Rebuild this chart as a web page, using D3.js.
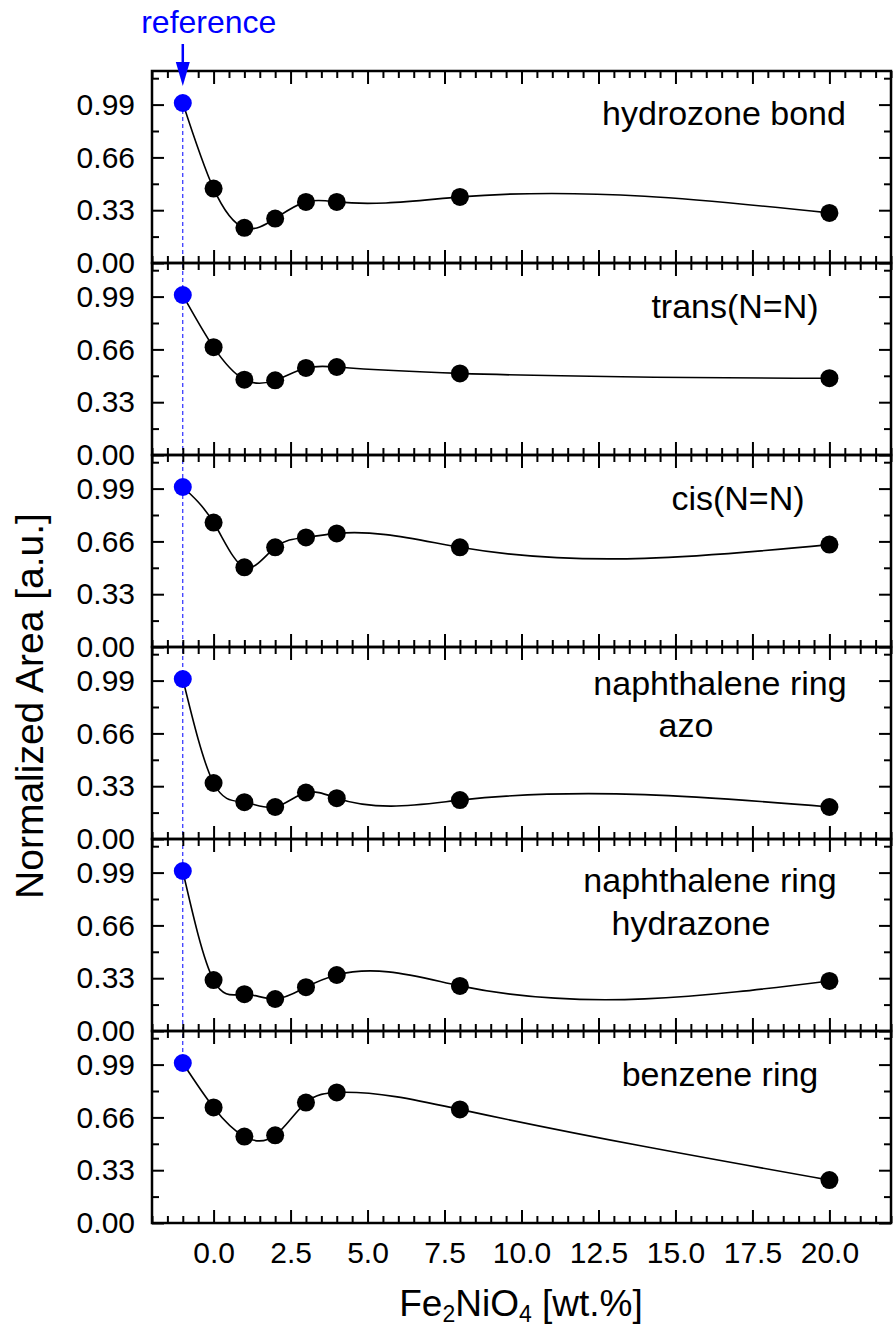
<!DOCTYPE html>
<html>
<head>
<meta charset="utf-8">
<script src="https://cdn.jsdelivr.net/npm/d3@7"></script>
<style>
  body { margin: 0; background: #fff; }
  text { font-family: "Liberation Sans", Arial, sans-serif; }
</style>
</head>
<body>
<div id="chart"></div>
<script>
// Data
var loadings = [-1, 0, 1, 2, 3, 4, 8, 20];   // Fe2NiO4 wt.% (-1 = reference)
var hydrozoneBond = [1.0, 0.465, 0.22, 0.278, 0.382, 0.382, 0.413, 0.313];
var transNN = [1.0, 0.674, 0.471, 0.467, 0.544, 0.55, 0.51, 0.48];
var cisNN = [1.0, 0.778, 0.498, 0.623, 0.685, 0.71, 0.623, 0.64];
var naphAzo = [1.0, 0.35, 0.23, 0.2, 0.29, 0.255, 0.243, 0.2];
var naphHydrazone = [1.0, 0.318, 0.23, 0.2, 0.274, 0.35, 0.282, 0.313];
var benzeneRing = [1.0, 0.722, 0.54, 0.548, 0.753, 0.816, 0.71, 0.268];

var panelLabels = [
  ["hydrozone bond"],
  ["trans(N=N)"],
  ["cis(N=N)"],
  ["naphthalene ring", "azo"],
  ["naphthalene ring", "hydrazone"],
  ["benzene ring"]
];
var series = [hydrozoneBond, transNN, cisNN, naphAzo, naphHydrazone, benzeneRing];

var yTicks = [0, 0.33, 0.66, 0.99];
var yMinor = [0.165, 0.495, 0.825, 1.155];
var xTicks = [0, 2.5, 5, 7.5, 10, 12.5, 15, 17.5, 20];

var svgWidth = 894;
var svgHeight = 1332;
var margin = { top: 71, left: 152, right: 3 };
var panelH = 192;
var width = svgWidth - margin.left - margin.right;

var svg = d3.select("#chart")
  .append("svg")
  .attr("width", svgWidth)
  .attr("height", svgHeight);

var x = d3.scaleLinear().domain([-2, 22]).range([0, width]);
var y = d3.scaleLinear().domain([0, 1.2]).range([panelH, 0]);

var xMinor = d3.range(-2, 22.01, 0.5).filter(function(v) { return Math.abs(v / 2.5 - Math.round(v / 2.5)) > 1e-6; });

// natural cubic spline in x, drawn as bezier pieces (like Origin's spline line)
function splineCurve(context) {
  var xs, ys;
  return {
    areaStart: function() {},
    areaEnd: function() {},
    lineStart: function() { xs = []; ys = []; },
    point: function(px, py) { xs.push(+px); ys.push(+py); },
    lineEnd: function() {
      var n = xs.length;
      if (n < 2) return;
      var h = [], M = new Array(n).fill(0);
      for (var i = 0; i < n - 1; i++) h[i] = xs[i + 1] - xs[i];
      var cp = [], dp = [];
      for (var i = 1; i < n - 1; i++) {
        var a = h[i - 1], b = 2 * (h[i - 1] + h[i]), c = h[i];
        var d = 6 * ((ys[i + 1] - ys[i]) / h[i] - (ys[i] - ys[i - 1]) / h[i - 1]);
        if (i === 1) { cp[i] = c / b; dp[i] = d / b; }
        else {
          var m = b - a * cp[i - 1];
          cp[i] = c / m;
          dp[i] = (d - a * dp[i - 1]) / m;
        }
      }
      for (var i = n - 2; i >= 1; i--) M[i] = dp[i] - (i < n - 2 ? cp[i] * M[i + 1] : 0);
      context.moveTo(xs[0], ys[0]);
      for (var i = 0; i < n - 1; i++) {
        var s = (ys[i + 1] - ys[i]) / h[i];
        var m0 = s - h[i] * (2 * M[i] + M[i + 1]) / 6;
        var m1 = s + h[i] * (M[i] + 2 * M[i + 1]) / 6;
        context.bezierCurveTo(xs[i] + h[i] / 3, ys[i] + h[i] * m0 / 3,
                              xs[i + 1] - h[i] / 3, ys[i + 1] - h[i] * m1 / 3,
                              xs[i + 1], ys[i + 1]);
      }
    }
  };
}

var line = d3.line()
  .x(function(d) { return x(d[0]); })
  .y(function(d) { return y(d[1]); })
  .curve(splineCurve);

var plot = svg.append("g").attr("transform", "translate(" + margin.left + "," + margin.top + ")");

// dashed reference line through all panels
plot.append("line")
  .attr("x1", x(-1)).attr("x2", x(-1))
  .attr("y1", y(1.0)).attr("y2", 5 * panelH + y(1.0))
  .attr("stroke", "#0000ff")
  .attr("stroke-width", 1)
  .attr("stroke-dasharray", "4,3");

series.forEach(function(vals, p) {
  var g = plot.append("g").attr("transform", "translate(0," + (p * panelH) + ")");
  var pts = loadings.map(function(v, i) { return [v, vals[i]]; });
  var last = p === series.length - 1;

  // axes, ticks pointing inward
  function addAxis(axis, tx, ty) {
    var a = g.append("g").attr("transform", "translate(" + tx + "," + ty + ")").call(axis);
    a.select(".domain").remove();
    a.selectAll("line").attr("stroke-width", 2);
    a.selectAll("text").attr("font-size", "30px").attr("font-family", "'Liberation Sans', Arial, sans-serif").attr("fill", "#000");
    return a;
  }
  addAxis(d3.axisBottom(x).tickValues(xTicks).tickSize(-13).tickPadding(19)
    .tickFormat(last ? d3.format(".1f") : ""), 0, panelH);
  addAxis(d3.axisBottom(x).tickValues(xMinor).tickSize(-7).tickFormat(""), 0, panelH);
  addAxis(d3.axisTop(x).tickValues(xTicks).tickSize(-13).tickFormat(""), 0, 0);
  addAxis(d3.axisTop(x).tickValues(xMinor).tickSize(-7).tickFormat(""), 0, 0);
  addAxis(d3.axisLeft(y).tickValues(yTicks).tickSize(-12).tickPadding(17).tickFormat(d3.format(".2f")), 0, 0);
  addAxis(d3.axisLeft(y).tickValues(yMinor).tickSize(-7).tickFormat(""), 0, 0);
  addAxis(d3.axisRight(y).tickValues(yTicks).tickSize(-12).tickFormat(""), width, 0);
  addAxis(d3.axisRight(y).tickValues(yMinor).tickSize(-7).tickFormat(""), width, 0);

  g.append("rect")
    .attr("width", width).attr("height", panelH)
    .attr("fill", "none").attr("stroke", "#000").attr("stroke-width", 2.5);

  g.append("path")
    .datum(pts)
    .attr("d", line)
    .attr("fill", "none")
    .attr("stroke", "#000")
    .attr("stroke-width", 1.6);

  g.selectAll("circle")
    .data(pts)
    .enter()
    .append("circle")
    .attr("cx", function(d) { return x(d[0]); })
    .attr("cy", function(d) { return y(d[1]); })
    .attr("r", 9)
    .attr("fill", function(d, i) { return i === 0 ? "#0000ff" : "#000"; });

  // panel label
  var lab = g.append("text")
    .attr("font-size", "34px")
    .attr("text-anchor", "middle")
    .attr("fill", "#000");
  var labelPos = [[[572, 54]], [[583, 55]], [[586, 55]], [[568, 48], [534, 90]], [[558, 53], [539, 96]], [[568, 55]]];
  panelLabels[p].forEach(function(t, k) {
    lab.append("tspan")
      .attr("x", labelPos[p][k][0])
      .attr("y", labelPos[p][k][1])
      .text(t);
  });
});

// reference marker
svg.append("text")
  .attr("x", margin.left + x(-1) + 26)
  .attr("y", 33)
  .attr("text-anchor", "middle")
  .attr("font-size", "32px")
  .attr("fill", "#0000ff")
  .text("reference");

svg.append("line")
  .attr("x1", margin.left + x(-1)).attr("x2", margin.left + x(-1))
  .attr("y1", 44).attr("y2", 66)
  .attr("stroke", "#0000ff").attr("stroke-width", 2.5);
svg.append("path")
  .attr("d", d3.line()([[margin.left + x(-1) - 7, 62], [margin.left + x(-1) + 7, 62], [margin.left + x(-1), 86]]) + "Z")
  .attr("fill", "#0000ff");

// axis titles
svg.append("text")
  .attr("transform", "translate(43, 706) rotate(-90)")
  .attr("text-anchor", "middle")
  .attr("font-size", "39px")
  .attr("fill", "#000")
  .text("Normalized Area [a.u.]");

var xt = svg.append("text")
  .attr("x", 521)
  .attr("y", 1316)
  .attr("text-anchor", "middle")
  .attr("font-size", "37px")
  .attr("fill", "#000");
xt.append("tspan").text("Fe");
xt.append("tspan").attr("font-size", "23px").attr("dy", 6).text("2");
xt.append("tspan").attr("dy", -6).text("NiO");
xt.append("tspan").attr("font-size", "23px").attr("dy", 6).text("4");
xt.append("tspan").attr("dy", -6).text(" [wt.%]");
</script>
</body>
</html>
